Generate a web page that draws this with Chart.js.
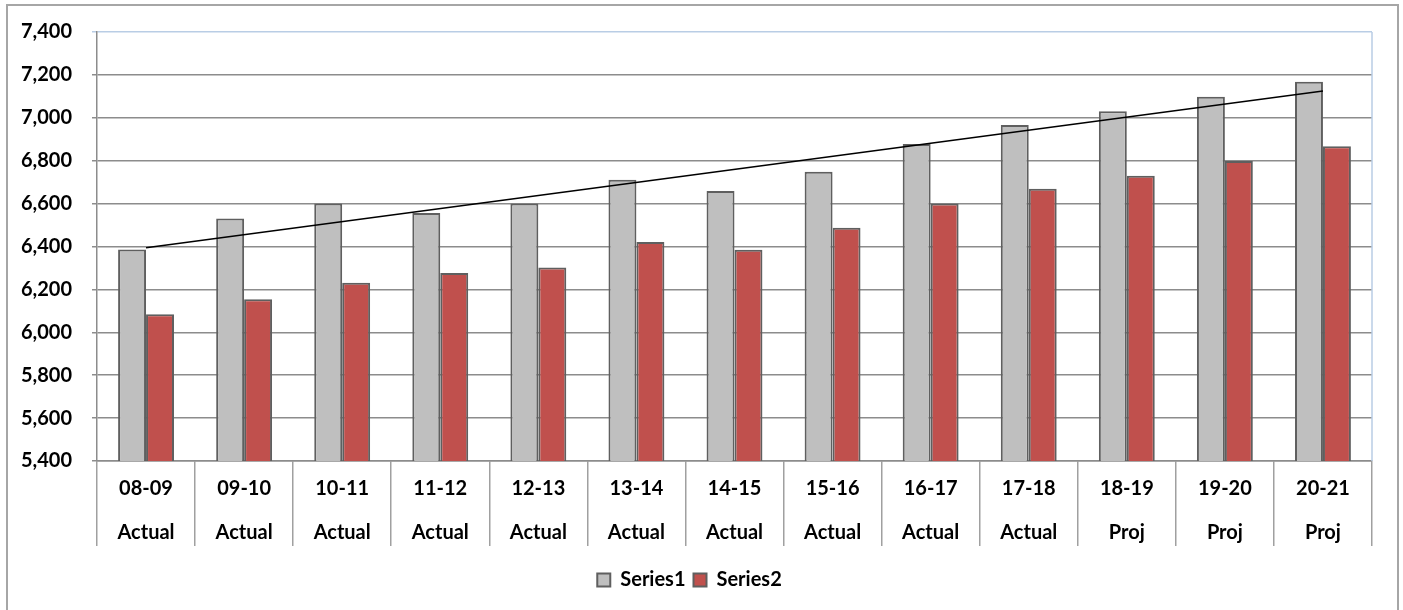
<!DOCTYPE html>
<html>
<head>
<meta charset="utf-8">
<script src="https://cdn.jsdelivr.net/npm/chart.js@4.4.0/dist/chart.umd.min.js"></script>
<style>
  html, body { margin: 0; padding: 0; background: #fff; }
  #frame { position: absolute; left: 6px; top: 4px; width: 1389px; height: 640px; border: 2px solid #a6a6a6; }
  #wrap { position: absolute; left: 0; top: 0; width: 1403px; height: 610px; }
</style>
</head>
<body>
<div id="frame"></div>
<div id="wrap"><canvas id="chart" width="1403" height="610"></canvas></div>
<script>
const periods = ['08-09', '09-10', '10-11', '11-12', '12-13', '13-14', '14-15', '15-16', '16-17', '17-18', '18-19', '19-20', '20-21'];
const kinds = ['Actual', 'Actual', 'Actual', 'Actual', 'Actual', 'Actual', 'Actual', 'Actual', 'Actual', 'Actual', 'Proj', 'Proj', 'Proj'];
const series1 = [6386, 6531, 6600, 6556, 6600, 6711, 6659, 6749, 6878, 6966, 7030, 7098, 7168];
const series2 = [6084, 6154, 6231, 6276, 6302, 6421, 6385, 6487, 6600, 6669, 6730, 6799, 6867];
// trend line: only its two end values
const trendStart = 6394;
const trendEnd = 7125;
const yMin = 5400, yMax = 7400, yStep = 200;

const labels = periods.map((p, i) => [p, kinds[i]]);
const trend = periods.map((p, i) => i === 0 ? trendStart : (i === periods.length - 1 ? trendEnd : null));

const font = "Lato, 'Open Sans', sans-serif";

// light blue plot-area outline on the right side
const plotOutline = {
  id: 'plotOutline',
  afterDraw(chart) {
    const { ctx, chartArea } = chart;
    ctx.save();
    ctx.strokeStyle = '#b9cde5';
    ctx.lineWidth = 1.5;
    ctx.beginPath();
    ctx.moveTo(chartArea.right, chartArea.top);
    ctx.lineTo(chartArea.right, chartArea.bottom);
    ctx.stroke();
    ctx.restore();
  }
};

new Chart(document.getElementById('chart'), {
  type: 'bar',
  data: {
    labels: labels,
    datasets: [
      {
        type: 'line',
        label: 'Trend',
        data: trend,
        borderColor: '#000',
        borderWidth: 1.5,
        pointRadius: 0,
        spanGaps: true,
        fill: false,
        order: 0
      },
      {
        label: 'Series1',
        data: series1,
        backgroundColor: '#bfbfbf',
        borderColor: '#5f5f5f',
        borderWidth: 2,
        order: 1
      },
      {
        label: 'Series2',
        data: series2,
        backgroundColor: '#c0504d',
        borderColor: '#5f5f5f',
        borderWidth: 2,
        order: 1
      }
    ]
  },
  options: {
    responsive: false,
    animation: false,
    layout: { padding: { left: 7, right: 31, top: 31, bottom: 10 } },
    datasets: { bar: { categoryPercentage: 0.57, barPercentage: 1.0 } },
    scales: {
      x: {
        grid: {
          offset: true,
          drawOnChartArea: false,
          drawTicks: true,
          tickLength: 85,
          color: '#a0a0a0',
          lineWidth: 1.5
        },
        border: { color: '#8c8c8c', width: 1.5 },
        ticks: {
          font: { family: font, size: 20, weight: 'bold', lineHeight: 2.2 },
          color: '#000',
          padding: -79,
          maxRotation: 0,
          autoSkip: false
        },
        afterFit(s) { s.height = 101; }
      },
      y: {
        min: yMin,
        max: yMax,
        grid: {
          color: ctx => ctx.tick && ctx.tick.value === yMax ? '#b9cde5' : '#8c8c8c',
          lineWidth: 1.5,
          tickLength: 5
        },
        border: { color: '#8c8c8c', width: 1.5 },
        ticks: {
          stepSize: yStep,
          font: { family: font, size: 20, weight: 'bold' },
          color: '#000',
          padding: 20,
          callback: v => v.toLocaleString('en-US')
        },
        afterFit(s) { s.width = 90; }
      }
    },
    plugins: {
      legend: {
        position: 'bottom',
        labels: {
          filter: item => item.text !== 'Trend',
          font: { family: font, size: 20, weight: 'bold' },
          color: '#000',
          boxWidth: 13,
          boxHeight: 13,
          padding: 8
        }
      },
      tooltip: { enabled: false }
    }
  },
  plugins: [plotOutline]
});
</script>
</body>
</html>
